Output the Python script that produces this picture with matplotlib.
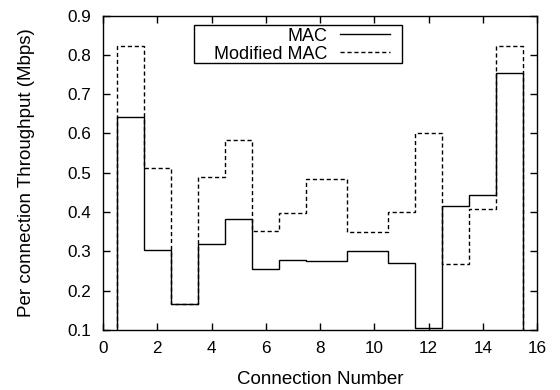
import numpy as np
import matplotlib
matplotlib.use("Agg")
import matplotlib.pyplot as plt
from matplotlib.patches import Rectangle

# connection numbers (connection 9 is absent in the data)
connections = [1, 2, 3, 4, 5, 6, 7, 8, 10, 11, 12, 13, 14, 15]
mac = [0.641, 0.304, 0.167, 0.319, 0.382, 0.254, 0.279, 0.275,
       0.300, 0.271, 0.104, 0.416, 0.444, 0.753]
modified_mac = [0.823, 0.513, 0.167, 0.488, 0.584, 0.353, 0.397, 0.484,
                0.349, 0.399, 0.601, 0.268, 0.408, 0.823]


def histep_edges(x):
    """ Bin edges halfway between neighbouring x values (gnuplot histeps) """
    x = np.asarray(x, dtype=float)
    mids = (x[1:] + x[:-1]) / 2
    return np.concatenate([[x[0] - 0.5], mids, [x[-1] + 0.5]])


plt.rcParams['font.family'] = ['Liberation Sans', 'DejaVu Sans']

fig = plt.figure(figsize=(5.6, 3.9), dpi=100)
ax = fig.add_axes([0.184, 0.154, 0.775, 0.806])

edges = histep_edges(connections)
ax.stairs(mac, edges, baseline=0, color='black', lw=1.0, label='MAC')
ax.stairs(modified_mac, edges, baseline=0, color='black', lw=1.0,
          linestyle=(0, (3, 2)), label='Modified MAC')

ax.set_xlim(0, 16)
ax.set_ylim(0.1, 0.9)
ax.set_xticks(range(0, 17, 2))
yt = np.arange(0.1, 0.91, 0.1)
ax.set_yticks(yt)
ax.set_yticklabels([f'{v:.1f}' for v in yt])
ax.tick_params(direction='in', top=True, right=True, length=5, width=1,
               labelsize=12.3)
ax.tick_params(axis='y', pad=8.5)
ax.tick_params(axis='x', pad=8)
for s in ax.spines.values():
    s.set_linewidth(1.0)

ax.set_xlabel('Connection Number', fontsize=13.5, labelpad=11)
ax.set_ylabel('Per connection Throughput (Mbps)', fontsize=13.5, labelpad=23)

# legend box drawn separately, entries without frame
ax.add_patch(Rectangle((0.2097, 0.8495), 0.4793, 0.1205, transform=ax.transAxes,
                       fill=True, facecolor='white', edgecolor='black', lw=1.0,
                       zorder=4))
leg = ax.legend(loc='upper right', bbox_to_anchor=(0.661, 0.962), fontsize=13,
                markerfirst=False, frameon=False, handlelength=2.77,
                borderpad=0, labelspacing=0.07, handletextpad=0.72,
                borderaxespad=0)
leg.set_zorder(5)
for t in leg.get_texts():
    t.set_ha('right')
leg._legend_box.align = 'right'

fig.savefig('out.png', dpi=100)
